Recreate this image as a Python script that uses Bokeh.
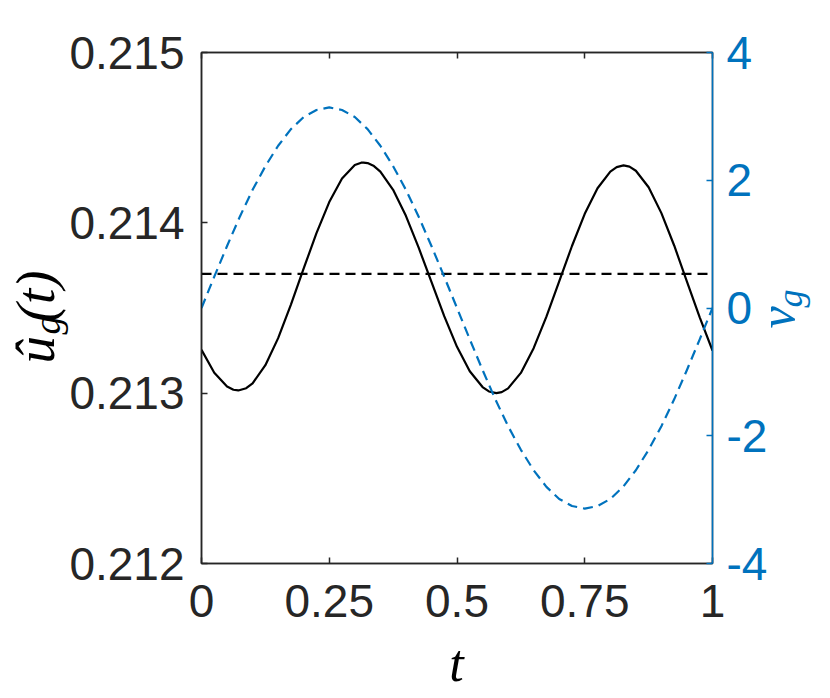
import math
from bokeh.plotting import figure
from bokeh.models import Range1d, LinearAxis, FixedTicker, Label
from bokeh.embed import file_html
from bokeh.resources import INLINE

# ---- data ----
t_black = [0.0, 0.025, 0.05, 0.0625, 0.072, 0.0875, 0.1, 0.125, 0.15, 0.175,
           0.2, 0.225, 0.25, 0.275, 0.3, 0.3125, 0.317, 0.325, 0.3375, 0.35,
           0.375, 0.4, 0.425, 0.45, 0.475, 0.5, 0.525, 0.55, 0.5625, 0.577,
           0.5875, 0.6, 0.625, 0.65, 0.675, 0.7, 0.725, 0.75, 0.775, 0.8,
           0.8125, 0.826, 0.8375, 0.85, 0.875, 0.9, 0.925, 0.95, 0.975, 1.0]
u_hat = [0.213254, 0.213120, 0.213039, 0.213020, 0.213016, 0.213029, 0.213058,
         0.213164, 0.213323, 0.213520, 0.213732, 0.213940, 0.214122, 0.214260,
         0.214339, 0.214353, 0.214354, 0.214351, 0.214333, 0.214301, 0.214194,
         0.214041, 0.213854, 0.213653, 0.213452, 0.213272, 0.213129, 0.213036,
         0.213010, 0.213000, 0.213006, 0.213028, 0.213119, 0.213264, 0.213449,
         0.213656, 0.213864, 0.214053, 0.214203, 0.214301, 0.214327, 0.214337,
         0.214330, 0.214306, 0.214209, 0.214057, 0.213867, 0.213655, 0.213445,
         0.213250]
t_blue = [0.0, 0.025, 0.05, 0.075, 0.1, 0.125, 0.15, 0.175, 0.2, 0.225,
          0.25, 0.275, 0.3, 0.325, 0.35, 0.375, 0.4, 0.425, 0.45, 0.475,
          0.5, 0.525, 0.55, 0.575, 0.6, 0.625, 0.65, 0.675, 0.7, 0.725,
          0.75, 0.775, 0.8, 0.825, 0.85, 0.875, 0.9, 0.925, 0.95, 0.975, 1.0]
v_g = [0.0, 0.49, 0.97, 1.43, 1.85, 2.22, 2.54, 2.80, 2.99, 3.10, 3.14,
       3.10, 2.99, 2.80, 2.54, 2.22, 1.85, 1.43, 0.97, 0.49, 0.0,
       -0.49, -0.97, -1.43, -1.85, -2.22, -2.54, -2.80, -2.99, -3.10, -3.14,
       -3.10, -2.99, -2.80, -2.54, -2.22, -1.85, -1.43, -0.97, -0.49, 0.0]
mean_t = [0.0, 1.0]
mean_u = [0.21370, 0.21370]

x_ticks = [0, 0.25, 0.5, 0.75, 1]
x_tick_labels = ["0", "0.25", "0.5", "0.75", "1"]
yl_ticks = [0.212, 0.213, 0.214, 0.215]
yl_tick_labels = ["0.212", "0.213", "0.214", "0.215"]
yr_ticks = [-4, -2, 0, 2, 4]
yr_tick_labels = ["-4", "-2", "0", "2", "4"]

BLUE = "#0072BD"
DARK = "#262626"
TICK_FONT = "Liberation Sans"
TICK_SIZE = "46px"
MATH_FONT = "Liberation Serif"

# frame geometry (pixels)
FL, FT, FW, FH = 201, 52, 511, 511
Y0, Y1 = 0.212, 0.215

p = figure(frame_width=FW, frame_height=FH,
           min_border_left=FL, min_border_right=110,
           min_border_top=FT, min_border_bottom=132,
           x_range=Range1d(0, 1), y_range=Range1d(Y0, Y1),
           output_backend="svg", toolbar_location=None,
           background_fill_color="white", border_fill_color="white")
p.extra_y_ranges = {"right": Range1d(-4, 4)}
p.grid.visible = False
p.outline_line_color = DARK
p.outline_line_width = 1.5

p.line(t_black, u_hat, line_color="black", line_width=2.2, line_join="round")
p.line(mean_t, mean_u, line_color="black", line_width=2.2, line_dash="10 6")
p.line(t_blue, v_g, line_color=BLUE, line_width=2.2, line_dash="10 6",
       line_join="round", y_range_name="right")

def style_axis(ax, color, ticks, labels, standoff):
    ax.ticker = FixedTicker(ticks=ticks)
    ax.major_label_overrides = {tk: lb for tk, lb in zip(ticks, labels)}
    ax.axis_line_color = color
    ax.axis_line_width = 1.5
    ax.major_tick_line_color = color
    ax.major_tick_line_width = 1.5
    ax.major_tick_in = 6
    ax.major_tick_out = 0
    ax.minor_tick_line_color = None
    ax.major_label_text_color = color
    ax.major_label_text_font = TICK_FONT
    ax.major_label_text_font_size = TICK_SIZE
    ax.major_label_standoff = standoff

style_axis(p.xaxis[0], DARK, x_ticks, x_tick_labels, 21)
style_axis(p.yaxis[0], DARK, yl_ticks, yl_tick_labels, 17)

ax_top = LinearAxis()
style_axis(ax_top, DARK, x_ticks, ["" for _ in x_ticks], 0)
ax_top.major_label_text_font_size = "1px"
p.add_layout(ax_top, "above")

ax_r = LinearAxis(y_range_name="right")
style_axis(ax_r, BLUE, yr_ticks, yr_tick_labels, 14)
p.add_layout(ax_r, "right")

# ---- math-style axis labels built from text pieces ----
# Labels in side panels are not clipped to the frame; they are positioned in
# data units, so the panel they sit in only matters for the space it reserves.
def px2x(px):
    return (px - FL) / FW

def px2y(py):
    return Y1 - (py - FT) / FH * (Y1 - Y0)

def piece(side, text, px, py, size, color, angle=0.0, align="left"):
    p.add_layout(Label(x=px2x(px), y=px2y(py), text=text, angle=angle,
                       text_font=MATH_FONT, text_font_size=size,
                       text_font_style="italic",
                       text_color=color, text_align=align,
                       text_baseline="middle"), side)

R = math.pi / 2
# left label  \hat{u}_g(t)   (anchors at the text's vertical middle)
piece("left", "û (t)", 35, 363, "55px", "black", angle=R)
piece("below", "g", 47, 334, "37px", "black", angle=R)
# right label v_g
piece("below", "v", 776, 328, "50px", BLUE, angle=R)
piece("above", "g", 789, 307, "36px", BLUE, angle=R)
# bottom label t
piece("right", "t", 456, 663, "52px", "black", align="center")

open("out.html", "w").write(file_html(p, INLINE))
